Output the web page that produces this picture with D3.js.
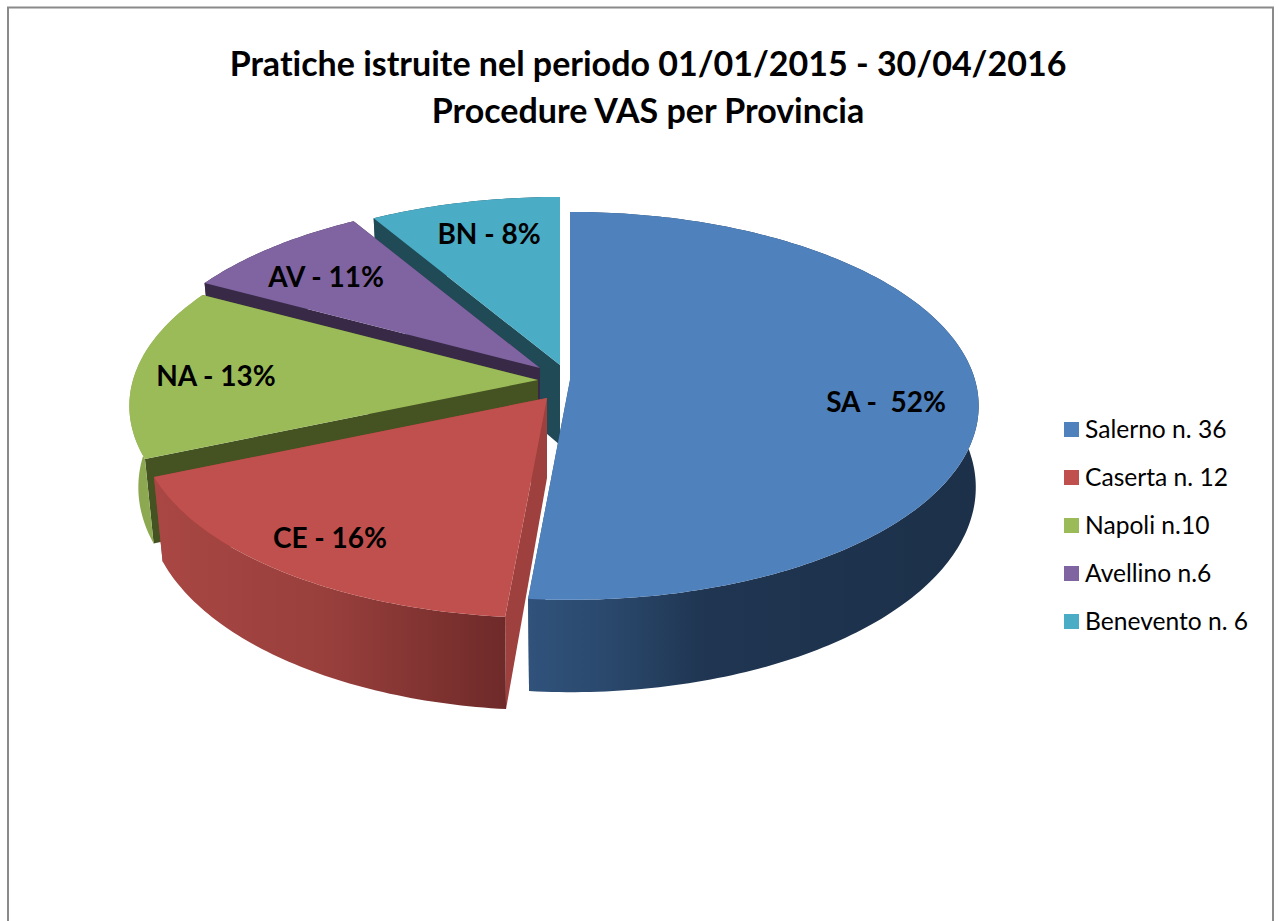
<!DOCTYPE html>
<html>
<head>
<meta charset="utf-8">
<script src="https://cdnjs.cloudflare.com/ajax/libs/d3/7.8.5/d3.min.js"></script>
<style>
html,body{margin:0;padding:0;background:#fff;overflow:hidden}
svg{display:block}
text{font-family:Lato,"Open Sans",sans-serif;fill:#000;font-variant-ligatures:none;font-feature-settings:"liga" 0}
</style>
</head>
<body>
<svg id="chart" width="1279" height="921"></svg>
<script>
const titleLines = ["Pratiche istruite nel periodo 01/01/2015 - 30/04/2016", "Procedure VAS per Provincia"];
const legendNames = ["Salerno n. 36", "Caserta n. 12", "Napoli n.10", "Avellino n.6", "Benevento n. 6"];
const sliceKeys = ["SA", "CE", "NA", "AV", "BN"];
const sliceValues = [36, 12, 10, 6, 6];
const sliceLabels = ["SA -  52%", "CE - 16%", "NA - 13%", "AV - 11%", "BN - 8%"];
const topColors = ["#4f81bd", "#c0504d", "#9bbb59", "#8064a2", "#4bacc6"];
const faceColors = ["#2e4f78", "#9e403d", "#455221", "#382a47", "#1f4a56"];
const wallStops = [
  [[0, "#30527b"], [0.18, "#2a486c"], [0.4, "#1f3551"], [1, "#1c3049"]],
  [[0, "#a94744"], [0.5, "#983f3c"], [1, "#6e2a29"]],
  [[0, "#8aa750"], [1, "#93b155"]],
  [[0, "#382a47"], [1, "#382a47"]],
  [[0, "#1f4a56"], [1, "#1f4a56"]]
];
// layout
const centre = [553, 380], radiusX = 405, radiusY = 190.5, perspective = 0.1335, depth = 80;
const shrinkLeft = 0.978, shrinkRight = 0.993;
const explode = [[17, 0], [-6, 18], [-15, 0], [-13, -12], [7, -15]];
const labelAt = [[886, 412], [330, 548], [216, 386], [326, 287], [489, 244]];
const legendX = 1064, legendY = 422, legendStep = 48, legendBox = 15;

const svg = d3.select("#chart");
const defs = svg.append("defs");

// frame
svg.append("rect").attr("x", 8).attr("y", 7.5).attr("width", 1265).attr("height", 1000)
  .attr("fill", "#fff").attr("stroke", "#8a8a8a").attr("stroke-width", 2);

// title
svg.append("g").selectAll("text").data(titleLines).join("text")
  .attr("x", 648).attr("y", (d, i) => 76 + i * 47)
  .attr("text-anchor", "middle").attr("font-size", 34).attr("font-weight", 700)
  .text(d => d);

const pie = d3.pie().sort(null).value(d => d.value)
  .startAngle(0).endAngle(2 * Math.PI);
const arcs = pie(sliceValues.map((value, i) => ({value, i})));

const sx = d3.scaleLinear().domain([-1, 1]).range([-radiusX, radiusX]);
const sy = d3.scaleLinear().domain([-1, 1]).range([-radiusY, radiusY]);

function project(u, v, off, lowered) {
  const w = 1 / (1 - perspective * v);
  const shrink = lowered ? (u < 0 ? shrinkLeft : shrinkRight) : 1;
  return [
    centre[0] + off[0] + sx(u) * w * shrink,
    centre[1] + off[1] + sy(v) * w + (lowered ? depth * w : 0)
  ];
}
const onRim = (a, off, lowered) => project(Math.sin(a), -Math.cos(a), off, lowered);
const line = d3.line();
const anglesOf = s => {
  const n = Math.max(2, Math.ceil((s.endAngle - s.startAngle) * 60));
  return d3.range(n + 1).map(k => s.startAngle + (s.endAngle - s.startAngle) * k / n);
};

// back to front
const order = [4, 3, 2, 1, 0];
const g = svg.append("g");
order.forEach(idx => {
  const s = arcs[idx], off = explode[idx], group = g.append("g");
  const as = anglesOf(s);
  const apexTop = project(0, 0, off, false), apexLow = project(0, 0, off, true);
  const topRim = as.map(a => onRim(a, off, false));
  const lowRim = as.map(a => onRim(a, off, true));

  // cut faces
  [0, as.length - 1].forEach(k => {
    group.append("path")
      .attr("d", line([apexTop, topRim[k], lowRim[k], apexLow]) + "Z")
      .attr("fill", faceColors[idx]);
  });

  // outer wall with a shaded gradient
  const xs = topRim.map(p => p[0]);
  const gradId = "wall" + idx;
  const grad = defs.append("linearGradient").attr("id", gradId)
    .attr("gradientUnits", "userSpaceOnUse")
    .attr("x1", d3.min(xs)).attr("x2", d3.max(xs)).attr("y1", 0).attr("y2", 0);
  wallStops[idx].forEach(st => grad.append("stop").attr("offset", st[0]).attr("stop-color", st[1]));
  group.append("path")
    .attr("d", line(topRim.concat(lowRim.slice().reverse())) + "Z")
    .attr("fill", `url(#${gradId})`);

  // top
  group.append("path")
    .attr("d", line([apexTop].concat(topRim)) + "Z")
    .attr("fill", topColors[idx]);
});

// labels
svg.append("g").selectAll("text").data(sliceLabels).join("text")
  .attr("x", (d, i) => labelAt[i][0]).attr("y", (d, i) => labelAt[i][1])
  .attr("text-anchor", "middle").attr("font-size", 28).attr("font-weight", 700)
  .attr("xml:space", "preserve").style("white-space", "pre")
  .text(d => d);

// legend
const leg = svg.append("g").selectAll("g").data(legendNames).join("g")
  .attr("transform", (d, i) => `translate(${legendX},${legendY + i * legendStep})`);
leg.append("rect").attr("width", legendBox).attr("height", legendBox)
  .attr("fill", (d, i) => topColors[i]);
leg.append("text").attr("x", 21).attr("y", 16).attr("font-size", 24.6).text(d => d);
</script>
</body>
</html>
